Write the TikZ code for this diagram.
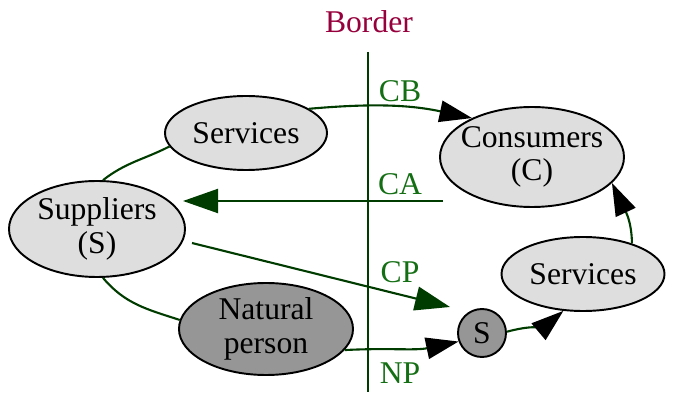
\documentclass[tikz,border=0pt]{standalone}
\usepackage{fontspec}
\setmainfont{Liberation Serif}
\usetikzlibrary{shapes.geometric,arrows.meta}
\definecolor{edgegreen}{RGB}{0,60,0}
\definecolor{labelgreen}{RGB}{20,110,20}
\definecolor{borderred}{RGB}{150,0,60}
\definecolor{lightfill}{RGB}{222,222,222}
\definecolor{darkfill}{RGB}{150,150,150}

\begin{document}
\begin{tikzpicture}[every node/.style={ellipse, draw, line width=1.1pt, fill=lightfill, inner xsep=-0.6cm, inner ysep=-0.1cm, align=center, font=\fontsize{18}{19}\selectfont},
  lbl/.style={draw=none, fill=none, inner sep=0pt, text=labelgreen},
  edge/.style={draw=edgegreen, line width=1.2pt},
  blacktip/.style={-{Triangle[length=6.5mm, width=4.3mm, color=black]}},
  greentip/.style={-{Triangle[length=7mm, width=4.8mm, color=edgegreen]}}]
  \useasboundingbox (0cm, 0cm) rectangle (13.7cm, 8.02cm);
  \node (sup) [minimum width=3.52cm, minimum height=1.92cm] at (1.94cm, 3.44cm) {Suppliers\\(S)};
  \node (svc1) [minimum width=3.24cm, minimum height=1.48cm] at (4.92cm, 5.36cm) {Services};
  \node (con) [minimum width=3.68cm, minimum height=2cm] at (10.64cm, 4.88cm) {Consumers\\(C)};
  \node (svc2) [minimum width=3.26cm, minimum height=1.48cm] at (11.66cm, 2.54cm) {Services};
  \node (np) [fill=darkfill, minimum width=3.48cm, minimum height=1.84cm] at (5.32cm, 1.44cm) {Natural\\person};
  \node (s) [circle, fill=darkfill, inner sep=0pt, minimum size=0.96cm] at (9.64cm, 1.36cm) {S};
  \node (border) [lbl, text=borderred] at (7.38cm, 7.58cm) {Border};
  \node (cb) [lbl] at (8cm, 6.2cm) {CB};
  \node (ca) [lbl] at (8cm, 4.34cm) {CA};
  \node (cp) [lbl] at (8cm, 2.58cm) {CP};
  \node (np2) [lbl] at (8cm, 0.56cm) {NP};
  \coordinate (bt) at (7.36cm, 6.98cm);
  \coordinate (bb) at (7.36cm, 0.18cm);
  \coordinate (cas) at (8.86cm, 4cm);
  \coordinate (cae) at (3.66cm, 4cm);
  \coordinate (cps) at (3.84cm, 3.16cm);
  \coordinate (cpe) at (9cm, 1.88cm);
  \draw [edge] (bt) -- (bb);
  \draw [edge] (svc1.190) to[out=207, in=38] (sup.83);
  \draw [edge] (sup.277) to[out=-50, in=162] (np.174);
  \draw [edge, blacktip] (svc1.21) to[out=5, in=168] (con.147);
  \draw [edge, greentip] (cas) -- (cae);
  \draw [edge, greentip] (cps) -- (cpe);
  \draw [edge, blacktip] (np.-15) to[out=3, in=192] (s.200);
  \draw [edge, blacktip] (s.3) to[out=15, in=220] (svc2.242);
  \draw [edge, blacktip] (svc2.32) to[out=90, in=-65] (con.-18);
\end{tikzpicture}
\end{document}
